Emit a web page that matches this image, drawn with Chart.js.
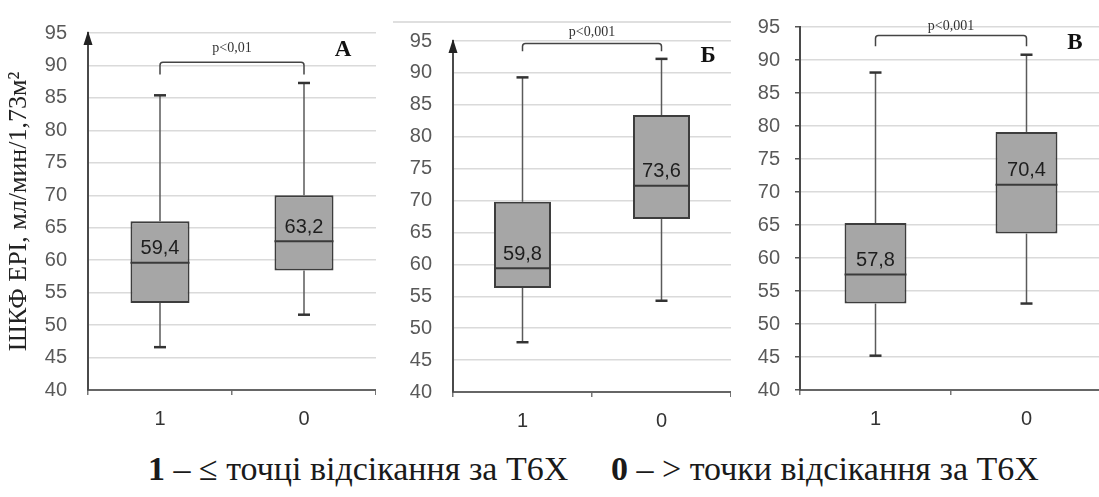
<!DOCTYPE html>
<html>
<head>
<meta charset="utf-8">
<script src="https://cdn.jsdelivr.net/npm/chart.js@4.4.1/dist/chart.umd.min.js"></script>
<style>
  html, body { margin: 0; padding: 0; background: #fff; width: 1099px; height: 497px; overflow: hidden; }
  .panel { position: absolute; top: 0; }
  .cap { position: absolute; top: 450px; font-family: "Liberation Serif", "Times New Roman", serif; font-size: 34px; color: #1a1a1a; white-space: nowrap; }
  .cap b { font-weight: bold; }
</style>
</head>
<body>
<canvas id="grA" class="panel" width="376" height="440" style="left:0px"></canvas>
<canvas id="grB" class="panel" width="355" height="440" style="left:376px"></canvas>
<canvas id="grC" class="panel" width="371" height="440" style="left:731px"></canvas>
<div class="cap" style="left:148px"><b>1</b> – ≤ точці відсікання за Т6Х</div>
<div class="cap" style="left:611px"><b>0</b> – &gt; точки відсікання за Т6Х</div>

<script>
// Категорії по осі X (однакові для всіх трьох панелей)
const categories = ['1', '0'];
const yTicks = [40, 45, 50, 55, 60, 65, 70, 75, 80, 85, 90, 95];

// Панель А
const lowA = [46.6, 51.6];
const q1A = [53.4, 58.4];
const medA = [59.6, 62.9];
const q3A = [66.0, 70.0];
const highA = [85.4, 87.3];
const meanA = ['59,4', '63,2'];

// Панель Б
const lowB = [47.8, 54.3];
const q1B = [56.3, 67.1];
const medB = [59.4, 72.3];
const q3B = [69.8, 83.4];
const highB = [89.3, 92.2];
const meanB = ['59,8', '73,6'];

// Панель В
const lowC = [45.2, 53.1];
const q1C = [53.1, 63.7];
const medC = [57.5, 71.1];
const q3C = [65.3, 79.1];
const highC = [88.1, 90.8];
const meanC = ['57,8', '70,4'];

const pTexts = ['p<0,01', 'p<0,001', 'p<0,001'];
const panelLetters = ['А', 'Б', 'В'];

// Плагін: вуса, медіана, підписи, дужка з p, стрілка осі
const boxExtras = {
  id: 'boxExtras',
  afterDatasetsDraw(chart, args, opts) {
    const { ctx, chartArea } = chart;
    const y = chart.scales.y;
    const meta = chart.getDatasetMeta(0);
    const seg = (x1, y1, x2, y2) => { ctx.beginPath(); ctx.moveTo(x1, y1); ctx.lineTo(x2, y2); ctx.stroke(); };
    ctx.save();

    // верхня рамка (лише на панелі Б)
    if (opts.frame) {
      ctx.strokeStyle = '#d4d4d4';
      ctx.lineWidth = 1.5;
      seg(17, 22, chart.width, 22);
    }

    opts.low.forEach((lo, i) => {
      const bar = meta.data[i];
      const cx = bar.x, half = bar.width / 2;
      // вуса
      ctx.strokeStyle = '#5a5a5a';
      ctx.lineWidth = 1.5;
      seg(cx, y.getPixelForValue(opts.q3[i]), cx, y.getPixelForValue(opts.high[i]));
      seg(cx, y.getPixelForValue(opts.q1[i]), cx, y.getPixelForValue(lo));
      ctx.strokeStyle = '#333';
      ctx.lineWidth = 2.5;
      seg(cx - 6, y.getPixelForValue(opts.high[i]), cx + 6, y.getPixelForValue(opts.high[i]));
      seg(cx - 6, y.getPixelForValue(lo), cx + 6, y.getPixelForValue(lo));
      // медіана
      const ym = y.getPixelForValue(opts.med[i]);
      ctx.strokeStyle = '#3a3a3a';
      ctx.lineWidth = 2;
      seg(cx - half, ym, cx + half, ym);
      // середнє значення над медіаною
      ctx.fillStyle = '#1e1e1e';
      ctx.font = '20px "Liberation Sans", Arial, sans-serif';
      ctx.textAlign = 'center';
      ctx.textBaseline = 'middle';
      ctx.fillText(opts.mean[i], cx, ym - 14);
    });

    // дужка з рівнем значущості
    const x0 = meta.data[0].x, x1 = meta.data[1].x;
    const yt = y.getPixelForValue(opts.bracketTop);
    const yl = y.getPixelForValue(opts.bracketLeft);
    const yr = y.getPixelForValue(opts.bracketRight);
    ctx.strokeStyle = '#444';
    ctx.lineWidth = 1.5;
    ctx.beginPath();
    ctx.moveTo(x0, yl);
    ctx.lineTo(x0, yt + 3);
    ctx.quadraticCurveTo(x0, yt, x0 + 3, yt);
    ctx.lineTo(x1 - 3, yt);
    ctx.quadraticCurveTo(x1, yt, x1, yt + 3);
    ctx.lineTo(x1, yr);
    ctx.stroke();
    ctx.fillStyle = '#333';
    ctx.font = '14px "Liberation Serif", serif';
    ctx.textAlign = 'center';
    ctx.textBaseline = 'middle';
    ctx.fillText(opts.pText, (x0 + x1) / 2, y.getPixelForValue(opts.pAt));

    // літера панелі
    ctx.fillStyle = '#111';
    ctx.font = 'bold 23px "Liberation Serif", serif';
    ctx.fillText(opts.letter, chartArea.right - opts.letterDx, y.getPixelForValue(opts.letterAt));

    // стрілка на осі Y
    if (opts.arrow) {
      const ax = chartArea.left, ay = chartArea.top;
      ctx.fillStyle = '#222';
      ctx.beginPath();
      ctx.moveTo(ax, ay - 2);
      ctx.lineTo(ax - 4.5, ay + 12);
      ctx.lineTo(ax + 4.5, ay + 12);
      ctx.closePath();
      ctx.fill();
    }
    ctx.restore();
  }
};

function makePanel(id, q1, q3, extras, layout) {
  const boxes = q1.map((v, i) => [v, q3[i]]);
  return new Chart(document.getElementById(id), {
    type: 'bar',
    data: {
      labels: categories,
      datasets: [{
        data: boxes,
        backgroundColor: '#a6a6a6',
        borderColor: '#3d3d3d',
        borderWidth: 2,
        borderSkipped: false,
        barPercentage: 0.41,
        categoryPercentage: 1
      }]
    },
    options: {
      responsive: false,
      animation: false,
      layout: { padding: { top: layout.top, right: 0, left: 0, bottom: 0 } },
      plugins: {
        legend: { display: false },
        tooltip: { enabled: false },
        boxExtras: extras
      },
      scales: {
        x: {
          offset: true,
          afterFit: (s) => { s.height = layout.xh; },
          grid: { display: true, drawOnChartArea: false, tickLength: 5, color: '#777', lineWidth: 1.5 },
          border: { color: '#666', width: 2 },
          ticks: { padding: 12, color: '#333', font: { family: '"Liberation Sans", Arial, sans-serif', size: 20 } }
        },
        y: {
          min: 40,
          max: 95,
          afterFit: (s) => { s.width = layout.yw; },
          afterBuildTicks: (s) => { s.ticks = yTicks.map((v) => ({ value: v })); },
          grid: { color: '#dadada', lineWidth: 1.5, drawTicks: layout.ticks, tickLength: 5, tickColor: '#555' },
          border: { color: '#4a4a4a', width: 2 },
          ticks: { padding: layout.ticks ? 15 : 21, color: '#595959', font: { family: '"Liberation Sans", Arial, sans-serif', size: 20 } },
          title: layout.title ? {
            display: true,
            text: 'ШКФ EPI, мл/мин/1,73м²',
            color: '#222',
            font: { family: '"Liberation Serif", serif', size: 26 },
            padding: { top: 4, bottom: 0 }
          } : { display: false }
        }
      }
    },
    plugins: [boxExtras]
  });
}

makePanel('grA', q1A, q3A, {
  low: lowA, q1: q1A, med: medA, q3: q3A, high: highA, mean: meanA,
  bracketTop: 90.5, bracketLeft: 88.6, bracketRight: 88.6, pText: pTexts[0], pAt: 92.6,
  letter: panelLetters[0], letterAt: 92.4, letterDx: 33, arrow: true, frame: false
}, { top: 25, xh: 50, yw: 88, ticks: false, title: true });

makePanel('grB', q1B, q3B, {
  low: lowB, q1: q1B, med: medB, q3: q3B, high: highB, mean: meanB,
  bracketTop: 94.6, bracketLeft: 93.4, bracketRight: 93.4, pText: pTexts[1], pAt: 96.3,
  letter: panelLetters[1], letterAt: 92.6, letterDx: 23, arrow: true, frame: true
}, { top: 41, xh: 48, yw: 77, ticks: false, title: false });

makePanel('grC', q1C, q3C, {
  low: lowC, q1: q1C, med: medC, q3: q3C, high: highC, mean: meanC,
  bracketTop: 93.7, bracketLeft: 92.1, bracketRight: 92.1, pText: pTexts[2], pAt: 95.1,
  letter: panelLetters[2], letterDx: 27, letterAt: 92.5, arrow: false, frame: false
}, { top: 23, xh: 50, yw: 69, ticks: true, title: false });
</script>
</body>
</html>
